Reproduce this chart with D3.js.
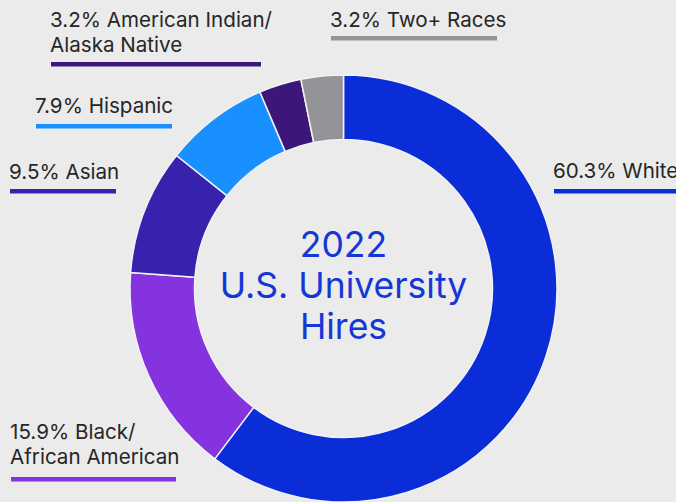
<!DOCTYPE html>
<html>
<head>
<meta charset="utf-8">
<script src="https://cdn.jsdelivr.net/npm/d3@7"></script>
<style>
  html, body { margin: 0; padding: 0; background: #ebebeb; }
  svg { display: block; }
</style>
</head>
<body>
<svg id="chart" width="676" height="502"></svg>
<script>
// Share of 2022 U.S. university hires by race/ethnicity (percent), clockwise from 12 o'clock
const groups = ["White", "Black/African American", "Asian", "Hispanic", "American Indian/Alaska Native", "Two+ Races"];
const shares = [60.3, 15.9, 9.5, 7.9, 3.2, 3.2];
const colors = ["#0b2dd8", "#8533de", "#3622ad", "#1890ff", "#3d1679", "#949498"];
// Label text lines (after the value)
const labelLines = [
  ["White"],
  ["Black/", "African American"],
  ["Asian"],
  ["Hispanic"],
  ["American Indian/", "Alaska Native"],
  ["Two+ Races"]
];
const centerTitle = ["2022", "U.S. University", "Hires"];

// Label placement: x of text start, baseline of first line, bar top and bar end x
const labelLayout = [
  { x: 553, y: 178, barY: 189, barX2: 676 },
  { x: 10,  y: 439, barY: 477, barX2: 176 },
  { x: 9,   y: 179, barY: 189, barX2: 116 },
  { x: 35,  y: 113, barY: 124, barX2: 172 },
  { x: 50,  y: 27,  barY: 62,  barX2: 261 },
  { x: 330, y: 27,  barY: 36,  barX2: 497 }
];

const svg = d3.select("#chart");
const cx = 343.5, cy = 288.5, rOuter = 213.5, rInner = 149;

const pie = d3.pie().sort(null).value(d => d);
const arc = d3.arc().innerRadius(rInner).outerRadius(rOuter);

const g = svg.append("g").attr("transform", `translate(${cx},${cy})`);
g.selectAll("path")
  .data(pie(shares))
  .join("path")
  .attr("d", arc)
  .attr("fill", (d, i) => colors[i])
  .attr("stroke", "#f2f2f2")
  .attr("stroke-width", 1.5)
  .attr("stroke-linejoin", "round");

// Center title
const title = svg.append("text")
  .attr("text-anchor", "middle")
  .attr("font-family", "Inter, 'Noto Sans', sans-serif")
  .attr("font-size", 35.5)
  .attr("fill", "#1537d6");
centerTitle.forEach((t, i) => {
  title.append("tspan").attr("x", cx).attr("y", 257 + i * 41).text(t);
});

// Outside labels with coloured underline bars
const fmt = d3.format(".1f");
const labels = svg.append("g")
  .attr("font-family", "Inter, 'Noto Sans', sans-serif")
  .attr("font-size", 20.6)
  .attr("fill", "#262626");

groups.forEach((name, i) => {
  const L = labelLayout[i];
  const lines = labelLines[i].slice();
  lines[0] = `${fmt(shares[i])}% ${lines[0]}`;
  const t = labels.append("text");
  lines.forEach((ln, j) => {
    t.append("tspan").attr("x", L.x).attr("y", L.y + j * 25).text(ln);
  });
  labels.append("rect")
    .attr("x", L.x + 1)
    .attr("y", L.barY)
    .attr("width", L.barX2 - L.x - 1)
    .attr("height", 4.5)
    .attr("fill", colors[i]);
});
</script>
</body>
</html>
